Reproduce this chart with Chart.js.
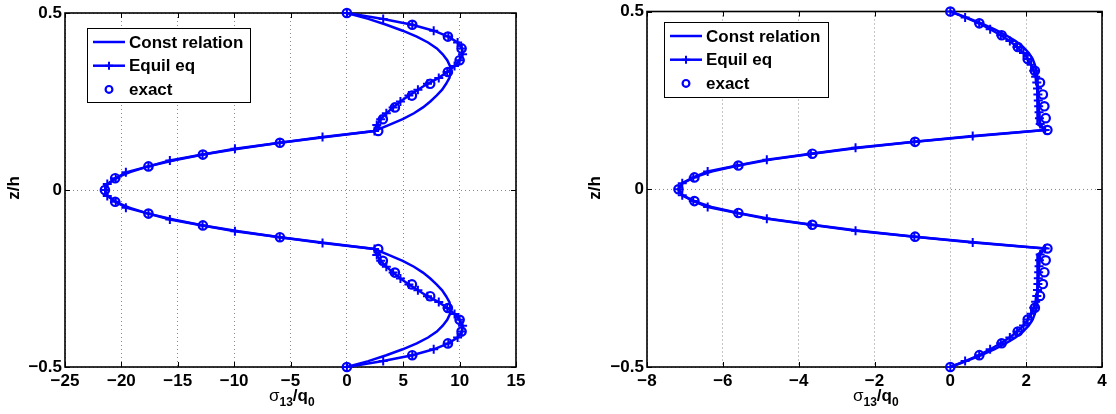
<!DOCTYPE html>
<html>
<head>
<meta charset="utf-8">
<script src="https://cdn.jsdelivr.net/npm/chart.js@4.4.1/dist/chart.umd.min.js"></script>
<style>
body{margin:0;background:#fff;}
#page{position:relative;width:1116px;height:414px;overflow:hidden;font-family:"Liberation Sans",Arial,sans-serif;}
#page canvas{position:absolute;top:0;}
.xt{position:absolute;font-weight:bold;font-size:17px;line-height:17px;white-space:nowrap;color:#000;}
.xt sub{font-size:12px;vertical-align:-5px;line-height:0;}
.xt .sig{font-weight:normal;}
.yt{position:absolute;width:40px;height:20px;line-height:20px;text-align:center;font-weight:bold;font-size:17px;color:#000;transform:rotate(-90deg);}
</style>
</head>
<body>
<div id="page">
	<canvas id="leftPlot" width="558" height="414" style="left:0px"></canvas>
	<canvas id="rightPlot" width="558" height="414" style="left:558px"></canvas>
	<div class="yt" style="left:-6px;top:178px">z/h</div>
	<div class="yt" style="left:575px;top:178px">z/h</div>
	<div class="xt" style="left:269px;top:387px"><span class="sig">σ</span><sub>13</sub>/q<sub>0</sub></div>
	<div class="xt" style="left:853px;top:387px"><span class="sig">σ</span><sub>13</sub>/q<sub>0</sub></div>
</div>
<script>
var seriesLabels = ['Const relation', 'Equil eq', 'exact'];

var leftXTicks = [-25, -20, -15, -10, -5, 0, 5, 10, 15];
var rightXTicks = [-8, -6, -4, -2, 0, 2, 4];
var yTicks = [-0.5, 0, 0.5];

// z/h positions, fine grid (lines) and coarse grid (exact)
var zFine = [
	0.5, 0.4833, 0.4667, 0.45, 0.4333, 0.4167, 0.4, 0.3833, 0.3667, 0.35,
	0.3333, 0.3167, 0.3, 0.2833, 0.2667, 0.25, 0.2333, 0.2167, 0.2, 0.1833,
	0.1667, 0.15, 0.1333, 0.1167, 0.1, 0.0833, 0.0667, 0.05, 0.0333, 0.0167,
	0,
	-0.0167, -0.0333, -0.05, -0.0667, -0.0833, -0.1, -0.1167, -0.1333, -0.15, -0.1667,
	-0.1833, -0.2, -0.2167, -0.2333, -0.25, -0.2667, -0.2833, -0.3, -0.3167, -0.3333,
	-0.35, -0.3667, -0.3833, -0.4, -0.4167, -0.4333, -0.45, -0.4667, -0.4833, -0.5];
var zCoarse = [
	0.5, 0.4667, 0.4333, 0.4, 0.3667, 0.3333, 0.3, 0.2667, 0.2333, 0.2,
	0.1667, 0.1333, 0.1, 0.0667, 0.0333, 0,
	-0.0333, -0.0667, -0.1, -0.1333, -0.1667, -0.2, -0.2333, -0.2667, -0.3, -0.3333,
	-0.3667, -0.4, -0.4333, -0.4667, -0.5];

var leftConst = [
	0, 1.9, 3.5, 4.95, 6.2, 7.2, 7.98, 8.5, 8.9, 9.15,
	9.2, 9.1, 8.8, 8.45, 7.95, 7.4, 6.75, 5.95, 4.95, 3.7,
	2.45, -1.85, -5.95, -9.6, -12.75, -15.4, -17.6, -19.3, -20.5, -21.2,
	-21.45,
	-21.2, -20.5, -19.3, -17.6, -15.4, -12.75, -9.6, -5.95, -1.85, 2.45,
	3.7, 4.95, 5.95, 6.75, 7.4, 7.95, 8.45, 8.8, 9.1, 9.2,
	9.15, 8.9, 8.5, 7.98, 7.2, 6.2, 4.95, 3.5, 1.9, 0];
var leftEquil = [
	0, 3.22, 5.8, 7.7, 9.0, 9.82, 10.2, 10.26, 10.0, 9.55,
	8.9, 8.15, 7.15, 6.3, 5.5, 4.75, 4.1, 3.5, 3.0, 2.65,
	2.45, -2.16, -5.95, -9.93, -12.8, -15.7, -17.6, -19.6, -20.5, -21.25,
	-21.45,
	-21.25, -20.5, -19.6, -17.6, -15.7, -12.8, -9.93, -5.95, -2.16, 2.45,
	2.65, 3.0, 3.5, 4.1, 4.75, 5.5, 6.3, 7.15, 8.15, 8.9,
	9.55, 10.0, 10.26, 10.2, 9.82, 9.0, 7.7, 5.8, 3.22, 0];
var leftExact = [
	0, 5.8, 8.96, 10.17, 10.0, 8.96, 7.39, 5.77, 4.26, 3.19,
	2.78, -5.94, -12.77, -17.6, -20.55, -21.46,
	-20.55, -17.6, -12.77, -5.94, 2.78, 3.19, 4.26, 5.77, 7.39, 8.96,
	10.0, 10.17, 8.96, 5.8, 0];

var rightConst = [
	0, 0.42, 0.82, 1.17, 1.47, 1.72, 1.92, 2.07, 2.17, 2.23,
	2.27, 2.29, 2.3, 2.3, 2.3, 2.3, 2.3, 2.3, 2.3, 2.31,
	2.5, 0.7, -0.93, -2.4, -3.64, -4.74, -5.59, -6.3, -6.75, -7.07,
	-7.17,
	-7.07, -6.75, -6.3, -5.59, -4.74, -3.64, -2.4, -0.93, 0.7, 2.5,
	2.31, 2.3, 2.3, 2.3, 2.3, 2.3, 2.3, 2.3, 2.29, 2.27,
	2.23, 2.17, 2.07, 1.92, 1.72, 1.47, 1.17, 0.82, 0.42, 0];
var rightEquil = [
	0, 0.39, 0.76, 1.05, 1.33, 1.57, 1.76, 1.93, 2.04, 2.13,
	2.2, 2.25, 2.28, 2.3, 2.31, 2.32, 2.33, 2.34, 2.35, 2.37,
	2.5, 0.59, -0.95, -2.5, -3.68, -4.84, -5.62, -6.4, -6.78, -7.07,
	-7.17,
	-7.07, -6.78, -6.4, -5.62, -4.84, -3.68, -2.5, -0.95, 0.59, 2.5,
	2.37, 2.35, 2.34, 2.33, 2.32, 2.31, 2.3, 2.28, 2.25, 2.2,
	2.13, 2.04, 1.93, 1.76, 1.57, 1.33, 1.05, 0.76, 0.39, 0];
var rightExact = [
	0, 0.765, 1.355, 1.78, 2.04, 2.23, 2.365, 2.44, 2.48, 2.515,
	2.56, -0.93, -3.64, -5.59, -6.75, -7.17,
	-6.75, -5.59, -3.64, -0.93, 2.56, 2.515, 2.48, 2.44, 2.365, 2.23,
	2.04, 1.78, 1.355, 0.765, 0];

var sheet = {};
sheet.blue = '#0000ff';
sheet.font = {family: '"Liberation Sans", Arial, sans-serif', size: 17, weight: 'bold', lineHeight: 1};

sheet.toPoints = function(xs, zs){
	return zs.map(function(z, i){ return {x: xs[i], y: z}; });
};

sheet.minus = function(v){
	return String(v).replace('-', '\u2212');
};

// box, inward ticks and the boxed legend, drawn like the matlab figure
sheet.framePlugin = {
	id: 'matlabFrame',
	beforeDatasetsDraw: function(chart){
		var ctx = chart.ctx;
		var a = chart.chartArea;
		var xs = chart.scales.x;
		var ys = chart.scales.y;
		ctx.save();
		ctx.strokeStyle = '#000';
		ctx.lineWidth = 1;
		ctx.beginPath();
		xs.ticks.forEach(function(t){
			var px = Math.round(xs.getPixelForValue(t.value)) + 0.5;
			ctx.moveTo(px, a.bottom); ctx.lineTo(px, a.bottom - 5);
			ctx.moveTo(px, a.top); ctx.lineTo(px, a.top + 5);
		});
		ys.ticks.forEach(function(t){
			var py = Math.round(ys.getPixelForValue(t.value)) + 0.5;
			ctx.moveTo(a.left, py); ctx.lineTo(a.left + 5, py);
			ctx.moveTo(a.right, py); ctx.lineTo(a.right - 5, py);
		});
		ctx.stroke();
		ctx.lineWidth = 1.6;
		ctx.strokeRect(a.left, a.top, a.right - a.left, a.bottom - a.top);
		ctx.restore();
	},
	afterDatasetsDraw: function(chart, args, opts){
		var box = opts.box;
		if (!box) return;
		var ctx = chart.ctx;
		ctx.save();
		ctx.fillStyle = '#fff';
		ctx.fillRect(box.x, box.y, box.w, box.h);
		ctx.strokeStyle = '#000';
		ctx.lineWidth = 1;
		ctx.strokeRect(box.x + 0.5, box.y + 0.5, box.w, box.h);
		chart.data.datasets.forEach(function(ds, i){
			var y = box.y + 14 + i * 23.7;
			var x0 = box.x + 6, x1 = box.x + 38, xc = (x0 + x1) / 2;
			ctx.strokeStyle = sheet.blue;
			if (ds.showLine) {
				ctx.lineWidth = ds.borderWidth;
				ctx.beginPath(); ctx.moveTo(x0, y); ctx.lineTo(x1, y); ctx.stroke();
			}
			if (ds.pointRadius > 0) {
				var r = ds.pointStyle === 'cross' ? 4 : 3.4;
				ctx.lineWidth = ds.pointBorderWidth;
				ctx.beginPath();
				if (ds.pointStyle === 'cross') {
					ctx.moveTo(xc - r, y); ctx.lineTo(xc + r, y);
					ctx.moveTo(xc, y - r); ctx.lineTo(xc, y + r);
				} else {
					ctx.arc(xc, y, r, 0, Math.PI * 2);
				}
				ctx.stroke();
			}
			ctx.fillStyle = '#000';
			ctx.font = 'bold 17px "Liberation Sans", Arial, sans-serif';
			ctx.textBaseline = 'middle';
			ctx.fillText(ds.label, box.x + 42, y + 1);
		});
		ctx.restore();
	}
};

sheet.makeChart = function(canvasId, xTicks, consts, equil, exact, setup){
	var ctx = document.getElementById(canvasId);
	var datasets = [
		{
			label: seriesLabels[0],
			data: sheet.toPoints(consts, zFine),
			showLine: true,
			borderColor: sheet.blue,
			borderWidth: 2.5,
			pointRadius: 0,
			clip: false
		},
		{
			label: seriesLabels[1],
			data: sheet.toPoints(equil, zFine),
			showLine: true,
			borderColor: sheet.blue,
			borderWidth: 2.5,
			pointStyle: 'cross',
			pointRadius: 4.5,
			pointBorderWidth: 2,
			pointBorderColor: sheet.blue,
			clip: false
		},
		{
			label: seriesLabels[2],
			data: sheet.toPoints(exact, zCoarse),
			showLine: false,
			pointStyle: 'circle',
			pointRadius: 4.2,
			pointBorderWidth: 2.2,
			pointBorderColor: sheet.blue,
			pointBackgroundColor: 'rgba(0,0,0,0)',
			clip: false
		}
	];

	return new Chart(ctx, {
		type: 'scatter',
		data: {datasets: datasets},
		plugins: [sheet.framePlugin],
		options: {
			responsive: false,
			maintainAspectRatio: false,
			devicePixelRatio: 1,
			animation: false,
			events: [],
			layout: {padding: {left: 0, top: setup.top, right: setup.right, bottom: 0}},
			plugins: {
				legend: {display: false},
				tooltip: {enabled: false},
				matlabFrame: {box: setup.box}
			},
			scales: {
				x: {
					type: 'linear',
					min: xTicks[0],
					max: xTicks[xTicks.length - 1],
					afterBuildTicks: function(scale){
						scale.ticks = xTicks.map(function(v){ return {value: v}; });
					},
					afterFit: function(scale){ scale.height = 47; },
					ticks: {
						font: sheet.font,
						color: '#000',
						padding: 6,
						maxRotation: 0,
						autoSkip: false,
						callback: function(v){ return sheet.minus(v); }
					},
					grid: {color: '#8a8a8a', lineWidth: 1, drawTicks: false},
					border: {display: false, dash: [1, 3]}
				},
				y: {
					type: 'linear',
					min: yTicks[0],
					max: yTicks[yTicks.length - 1],
					afterBuildTicks: function(scale){
						scale.ticks = yTicks.map(function(v){ return {value: v}; });
					},
					afterFit: function(scale){ scale.width = setup.yWidth; },
					ticks: {
						font: sheet.font,
						color: '#000',
						padding: 3,
						autoSkip: false,
						callback: function(v){ return sheet.minus(v); }
					},
					grid: {color: '#8a8a8a', lineWidth: 1, drawTicks: false},
					border: {display: false, dash: [1, 3]}
				}
			}
		}
	});
};

sheet.init = function(){
	sheet.makeChart('leftPlot', leftXTicks, leftConst, leftEquil, leftExact,
		{top: 13, right: 42, yWidth: 65, box: {x: 87, y: 28, w: 163, h: 74}});
	sheet.makeChart('rightPlot', rightXTicks, rightConst, rightEquil, rightExact,
		{top: 9, right: 14, yWidth: 89, box: {x: 106, y: 22, w: 164, h: 75}});
};

sheet.init();
</script>
</body>
</html>
